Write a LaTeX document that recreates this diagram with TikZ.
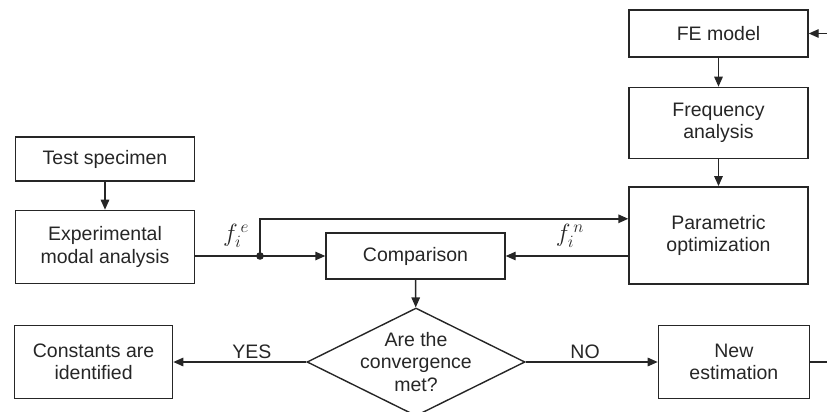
\documentclass[tikz,border=0pt]{standalone}
\usepackage{fontspec}
\setmainfont{Liberation Sans}
\usetikzlibrary{positioning,arrows.meta,shapes.geometric}
\definecolor{inkgray}{HTML}{262626}

\begin{document}
\begin{tikzpicture}[
    x=1pt, y=-1pt,
    every node/.style={font=\fontsize{19.5}{22.5}\selectfont, text=inkgray},
    box/.style={
      draw=inkgray, line width=1.4pt,
      align=center, inner sep=0pt,
      minimum width=179pt
    },
    decision/.style={
      draw=inkgray, line width=1.4pt,
      shape=diamond, aspect=2, align=center, inner sep=-3pt,
      minimum width=218pt, minimum height=108pt
    },
    link/.style={draw=inkgray, line width=1.4pt, -{Triangle[length=10pt,width=8.5pt]}},
    plain/.style={draw=inkgray, line width=1.4pt},
    lbl/.style={inner sep=3pt},
    sym/.style={inner sep=1pt, font=\fontsize{25}{28}\selectfont}
  ]
  \useasboundingbox (0,0) rectangle (827,412);
  \clip (0,0) rectangle (827,412);

  % numerical side
  \node[box, minimum height=47pt] (fe) at (718.5,33.5) {FE model};
  \node[box, minimum height=71pt, below=29pt of fe] (freq) {Frequency\\analysis};
  \node[box, minimum height=97pt, below=27pt of freq] (param) {Parametric\\optimization};

  % experimental side
  \node[box, minimum height=44pt] (test) at (105,159) {Test specimen};
  \node[box, minimum height=73pt, below=28pt of test] (ema) {Experimental\\modal analysis};

  \node[box, minimum height=46pt] (comp) at (415.5,256) {Comparison};
  \node[decision] (conv) at (416,362) {Are the\\convergence\\met?};
  \node[box, minimum width=158pt, minimum height=73pt, left=133pt of conv] (const) {Constants are\\identified};
  \node[box, minimum width=151pt, minimum height=73pt, right=132pt of conv] (newest) {New\\estimation};

  \coordinate (split) at (260,256);

  \draw[link] (fe) -- (freq);
  \draw[link] (freq) -- (param);
  \draw[link] (test) -- (ema);
  \draw[plain] (comp.west -| ema.east) -- (split);
  \fill[inkgray] (split) circle (3.8pt);
  \draw[link] (split) -- (comp);
  \draw[link] (split) |- ([yshift=16.5pt]param.west);
  \draw[link] (param.west |- comp.east) -- (comp);
  \node[sym] (fe-lbl) at (236,236) {$f_i^{\,e}$};
  \node[sym] (fn-lbl) at (570,236) {$f_i^{\,n}$};

  \draw[link] (comp) -- (conv);
  \draw[link] (conv) -- node[lbl, pos=0.41, above] {YES} (const);
  \draw[link] (conv) -- node[lbl, pos=0.45, above] {NO} (newest);
  \draw[link] (newest.east) -- ++(30,0) |- (fe.east);
\end{tikzpicture}
\end{document}
